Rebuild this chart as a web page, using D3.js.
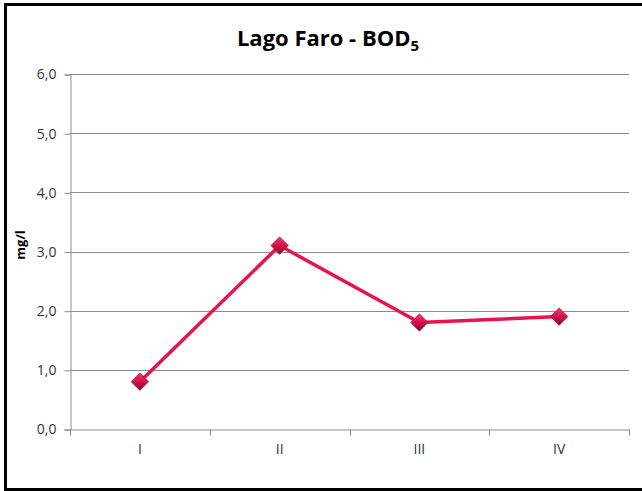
<!DOCTYPE html>
<html>
<head>
<meta charset="UTF-8">
<title>Lago Faro - BOD5</title>
<style>
  body { margin: 0; background: #fff; }
  text { font-family: "Open Sans", "Liberation Sans", sans-serif; }
</style>
</head>
<body>
<svg width="642" height="491"></svg>
<script src="https://cdn.jsdelivr.net/npm/d3@7"></script>
<script>
// data
var categories = ["I", "II", "III", "IV"];
var values = [0.8, 3.1, 1.8, 1.9];
var yTicks = [0, 1, 2, 3, 4, 5, 6];

var svg = d3.select("svg"),
    MARGINS = { top: 74, right: 13, bottom: 62, left: 70 },
    WIDTH = +svg.attr("width"),
    HEIGHT = +svg.attr("height");

// outer frame
svg.append("rect")
    .attr("x", 5.5).attr("y", 4.5)
    .attr("width", 660).attr("height", 485)
    .attr("fill", "none")
    .attr("stroke", "#000")
    .attr("stroke-width", 3);

var xScale = d3.scaleBand()
    .domain(categories)
    .range([MARGINS.left, WIDTH - MARGINS.right]);
var yScale = d3.scaleLinear()
    .domain([0, 6])
    .range([HEIGHT - MARGINS.bottom, MARGINS.top]);

var fmt = function (d) { return d3.format(".1f")(d).replace(".", ","); };

// gridlines
svg.append("g")
    .selectAll("line")
    .data(yTicks.slice(1))
    .enter().append("line")
    .attr("x1", MARGINS.left).attr("x2", WIDTH - MARGINS.right)
    .attr("y1", function (d) { return Math.round(yScale(d)) + 0.5; })
    .attr("y2", function (d) { return Math.round(yScale(d)) + 0.5; })
    .attr("stroke", "#8c8c8c")
    .attr("stroke-width", 1);

// y axis
var yAxis = d3.axisLeft(yScale).tickValues(yTicks).tickFormat(fmt).tickSize(6).tickPadding(8);
var gy = svg.append("g")
    .attr("transform", "translate(" + (MARGINS.left + 0.5) + ",0.5)")
    .call(yAxis);
gy.select(".domain").attr("stroke", "#8c8c8c");
gy.selectAll(".tick line").attr("stroke", "#8c8c8c");
gy.selectAll(".tick text")
    .attr("fill", "#333")
    .style("font-size", "14px")
    .style("font-family", "'Open Sans', sans-serif");

// x axis with ticks on band edges
var xAxis = d3.axisBottom(xScale).tickSize(0).tickPadding(15);
var gx = svg.append("g")
    .attr("transform", "translate(0," + (Math.round(yScale(0)) + 0.5) + ")")
    .call(xAxis);
gx.select(".domain").attr("stroke", "#8c8c8c");
gx.selectAll(".tick text")
    .attr("fill", "#333")
    .style("font-size", "14px")
    .style("font-family", "'Open Sans', sans-serif");
var edges = categories.map(function (c) { return xScale(c); }).concat([xScale.range()[1]]);
gx.selectAll(".edge")
    .data(edges)
    .enter().append("line")
    .attr("x1", function (d) { return Math.round(d) + 0.5; })
    .attr("x2", function (d) { return Math.round(d) + 0.5; })
    .attr("y1", 0).attr("y2", 6)
    .attr("stroke", "#8c8c8c");

// title
var title = svg.append("text")
    .attr("x", 328).attr("y", 46)
    .attr("text-anchor", "middle")
    .style("font-size", "22px")
    .style("font-weight", "bold")
    .attr("fill", "#000")
    .text("Lago Faro - BOD");
title.append("tspan")
    .attr("dy", 5)
    .style("font-size", "15px")
    .text("5");

// y label
svg.append("text")
    .attr("transform", "translate(25,245) rotate(-90)")
    .attr("text-anchor", "middle")
    .style("font-size", "13px")
    .style("font-weight", "bold")
    .attr("fill", "#000")
    .text("mg/l");

// line
var cx = function (d, i) { return xScale(categories[i]) + xScale.bandwidth() / 2; };
var lineGen = d3.line()
    .x(function (d, i) { return cx(d, i); })
    .y(function (d) { return yScale(d); });

svg.append("path")
    .attr("d", lineGen(values))
    .attr("fill", "none")
    .attr("stroke", "#e8134a")
    .attr("stroke-width", 3.5);

// marker gradient
var grad = svg.append("defs").append("linearGradient")
    .attr("id", "mk")
    .attr("x1", "0").attr("y1", "0").attr("x2", "1").attr("y2", "1");
grad.append("stop").attr("offset", "0%").attr("stop-color", "#f2336d");
grad.append("stop").attr("offset", "50%").attr("stop-color", "#d0134a");
grad.append("stop").attr("offset", "100%").attr("stop-color", "#850b2c");

svg.append("g")
    .selectAll("path")
    .data(values)
    .enter().append("path")
    .attr("d", d3.symbol().type(d3.symbolSquare).size(155))
    .attr("transform", function (d, i) {
        return "translate(" + cx(d, i) + "," + yScale(d) + ") rotate(45)";
    })
    .attr("fill", "url(#mk)")
    .attr("stroke", "#a00d35")
    .attr("stroke-width", 0.5);
</script>
</body>
</html>
